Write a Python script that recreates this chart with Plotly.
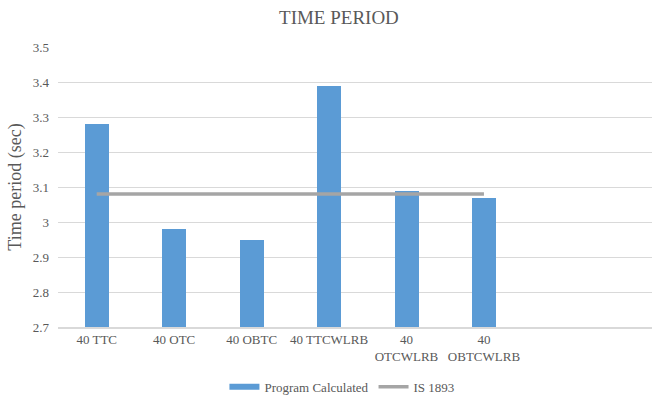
import plotly.graph_objects as go

# Building configurations and their fundamental time periods (sec)
categories = ["40 TTC", "40 OTC", "40 OBTC", "40 TTCWLRB", "40<br>OTCWLRB", "40<br>OBTCWLRB"]
program_calculated = [3.28, 2.98, 2.95, 3.39, 3.09, 3.07]
is_1893 = [3.08, 3.08, 3.08, 3.08, 3.08, 3.08]
y_ticks = [2.7, 2.8, 2.9, 3.0, 3.1, 3.2, 3.3, 3.4, 3.5]
y_tick_text = ["2.7", "2.8", "2.9", "3", "3.1", "3.2", "3.3", "3.4", "3.5"]

x_pos = list(range(len(categories)))
font_family = "Liberation Serif, Times New Roman, serif"
text_gray = "#595959"
bar_blue = "#5B9BD5"
line_gray = "#A5A5A5"

fig = go.Figure()
fig.add_trace(go.Bar(
    x=x_pos, y=program_calculated, name="Program Calculated",
    marker=dict(color=bar_blue, line=dict(width=0)),
    width=0.31, showlegend=False,
))
# Legend swatch for the bars, drawn as a wide band
fig.add_trace(go.Scatter(
    x=[None], y=[None], name="Program Calculated", mode="lines",
    line=dict(color=bar_blue, width=6),
))
fig.add_trace(go.Scatter(
    x=x_pos, y=is_1893, name="IS 1893", mode="lines",
    line=dict(color=line_gray, width=3.5),
))

fig.update_layout(
    width=662, height=396,
    margin=dict(l=58, r=10, t=47, b=69, autoexpand=False),
    paper_bgcolor="white", plot_bgcolor="white",
    title=dict(text="TIME PERIOD", xref="paper", x=0.473, xanchor="center",
               y=0.955, yanchor="middle",
               font=dict(family=font_family, size=19, color=text_gray)),
    font=dict(family=font_family, size=13, color=text_gray),
    showlegend=True,
    legend=dict(orientation="h", x=0.478, xanchor="center",
                yref="container", y=0.023, yanchor="middle",
                font=dict(family=font_family, size=13, color=text_gray),
                traceorder="normal", tracegroupgap=0),
    bargap=0,
)
fig.update_xaxes(
    tickmode="array", tickvals=x_pos, ticktext=categories,
    range=[-0.5, 7.17], showgrid=False, zeroline=False, automargin=False,
    showline=True, linecolor="#D9D9D9", linewidth=1.5, ticks="",
    tickfont=dict(family=font_family, size=13, color=text_gray),
)
fig.update_yaxes(
    range=[2.7, 3.5], tickmode="array", tickvals=y_ticks, ticktext=y_tick_text,
    showgrid=True, gridcolor="#D9D9D9", gridwidth=1, zeroline=False, automargin=False,
    showline=False, ticks="", ticklabelstandoff=8,
    tickfont=dict(family=font_family, size=13, color=text_gray),
    title=dict(text="Time period (sec)", standoff=6,
               font=dict(family=font_family, size=18, color=text_gray)),
)

fig.write_html("out.html")
